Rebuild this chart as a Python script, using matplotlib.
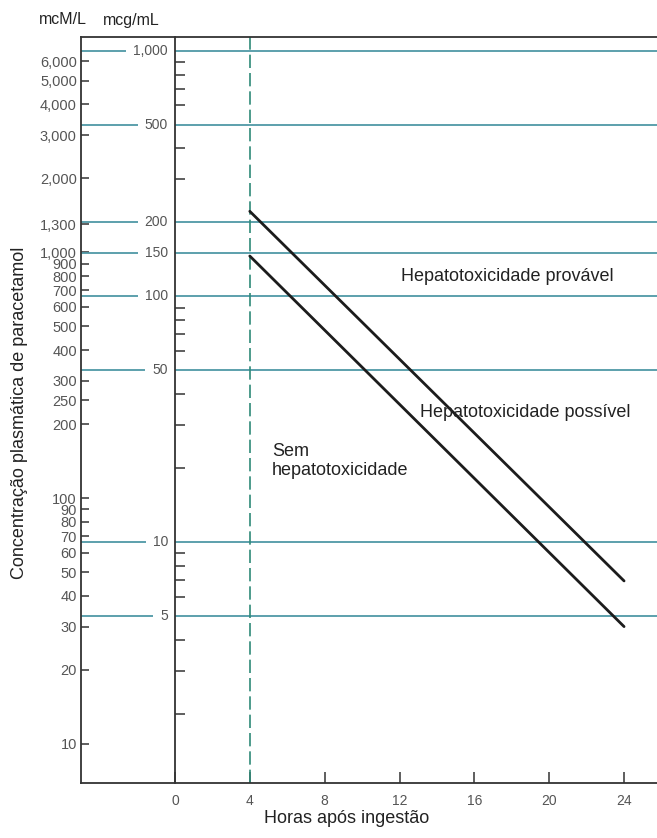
import matplotlib
matplotlib.use("Agg")
import matplotlib.pyplot as plt
import numpy as np
from matplotlib import transforms
from matplotlib.ticker import NullLocator

plt.rcParams["font.family"] = ["Liberation Sans", "DejaVu Sans"]

# ---------------- data ----------------
UM_PER_MCG = 6.62  # 1 mcg/mL paracetamol ~ 6.62 micromol/L

line_hours = [4, 24]
upper_line = [222, 6.95]     # mcg/mL
lower_line = [146, 4.53]     # mcg/mL

mcg_major = [1000, 500, 200, 150, 100, 50, 10, 5]
mcg_major_labels = ["1,000", "500", "200", "150", "100", "50", "10", "5"]
mcg_minor = [900, 800, 700, 600, 400, 300, 90, 80, 70, 60, 40, 30, 20,
             9, 8, 7, 6, 4, 3, 2]

mcm_ticks = [6000, 5000, 4000, 3000, 2000, 1300, 1000, 900, 800, 700, 600,
             500, 400, 300, 250, 200, 100, 90, 80, 70, 60, 50, 40, 30, 20, 10]
mcm_labels = [f"{v:,}" for v in mcm_ticks]

hour_ticks = [0, 4, 8, 12, 16, 20, 24]
hour_labels = [str(h) for h in hour_ticks]

# ---------------- figure ----------------
W, H = 657, 838
fig = plt.figure(figsize=(W / 100, H / 100), dpi=100)
ax = fig.add_axes([81 / W, 55 / H, 576 / W, 746 / H])
ax.set_yscale("log")
xmin, xmax = -5.02, 25.76
ax.set_xlim(xmin, xmax)
ax.set_ylim(1.046, 1137)

dark = "#333333"
teal = "#4f98a6"
label_gray = "#555555"

for s in ["left", "top", "bottom"]:
    ax.spines[s].set_color(dark)
    ax.spines[s].set_linewidth(1.3)
    ax.spines[s].set_zorder(6)
ax.spines["right"].set_visible(False)

# left (mcM/L) axis
ax.set_yticks(np.array(mcm_ticks) / UM_PER_MCG, labels=mcm_labels)
ax.yaxis.set_minor_locator(NullLocator())
ax.tick_params(axis="y", direction="in", length=6, width=1.1, color=dark,
               labelcolor=label_gray, labelsize=10.5, pad=3)

# bottom axis
ax.set_xticks(hour_ticks, labels=hour_labels)
ax.tick_params(axis="x", direction="in", length=8, width=1.1, color=dark,
               labelcolor=label_gray, labelsize=10, pad=8)

# teal reference lines
for v in mcg_major:
    ax.axhline(v, color=teal, lw=1.3, zorder=2)

# mcg/mL axis at hour 0
loc = (0 - xmin) / (xmax - xmin)
sec = ax.secondary_yaxis(loc)
sec.set_yticks(mcg_minor, labels=[""] * len(mcg_minor))
sec.yaxis.set_minor_locator(NullLocator())
sec.tick_params(axis="y", direction="in", length=7, width=1.1, color=dark)
for s in sec.spines.values():
    s.set_color(dark)
    s.set_linewidth(1.3)
sec.set_zorder(5)

off = transforms.offset_copy(ax.transData, fig=fig, x=-7, y=0, units="dots")
for v, lab in zip(mcg_major, mcg_major_labels):
    ax.text(0, v, lab, transform=off, ha="right", va="center", fontsize=10,
            color=label_gray, zorder=4,
            bbox=dict(facecolor="white", edgecolor="none", pad=5))

# 4-hour dashed line
ax.axvline(4, color="#2f8a78", lw=1.2, ls=(0, (8, 3)), zorder=2)

# treatment lines
ax.plot(line_hours, upper_line, color="#1c1c1c", lw=2.0, solid_capstyle="round", zorder=3)
ax.plot(line_hours, lower_line, color="#1c1c1c", lw=2.0, solid_capstyle="round", zorder=3)

# region labels
ax.text(12.08, 120, "Hepatotoxicidade provável", fontsize=13, color="#222222",
        ha="left", va="center")
ax.text(13.1, 33.8, "Hepatotoxicidade possível", fontsize=13, color="#222222",
        ha="left", va="center")
ax.text(5.18, 21.4, "Sem\nhepatotoxicidade", fontsize=13, color="#222222",
        ha="left", va="center", linespacing=1.2)

# axis titles
fig.text(39 / W, 1 - 20 / H, "mcM/L", fontsize=11.5, color="#222222",
         ha="left", va="center")
fig.text(103 / W, 1 - 20 / H, "mcg/mL", fontsize=11.5, color="#222222",
         ha="left", va="center")
fig.text(20 / W, 1 - 413 / H, "Concentração plasmática de paracetamol",
         fontsize=13, color="#222222", rotation=90, ha="center", va="center")
fig.text(347 / W, 1 - 818 / H, "Horas após ingestão", fontsize=13,
         color="#222222", ha="center", va="center")

fig.savefig("out.png", dpi=100, facecolor="white")
